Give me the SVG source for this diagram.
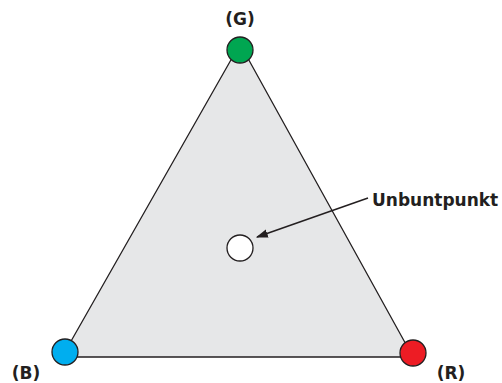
<svg xmlns="http://www.w3.org/2000/svg" width="502" height="383" viewBox="0 0 502 383">
<style>
.lbl{font-family:"DejaVu Sans",sans-serif;font-weight:bold;font-size:17px;fill:#231f20}
.dot{stroke:#231f20;stroke-width:1.3}
</style>
<defs>
<marker id="ah" viewBox="0 0 10 10" refX="9" refY="5" markerWidth="12" markerHeight="12" markerUnits="userSpaceOnUse" orient="auto">
<path d="M0,1.5 L10,5 L0,8.5 Z" fill="#231f20"/>
</marker>
</defs>
<g id="triangle">
<polygon points="240,44 62,357 413,357" fill="#e6e7e8" stroke="#231f20" stroke-width="1.3"/>
</g>
<g id="connectors">
<line x1="368" y1="198" x2="257" y2="237" stroke="#231f20" stroke-width="1.5" marker-end="url(#ah)"/>
</g>
<g id="G"><circle class="dot" cx="240" cy="50" r="13" fill="#00a651"/><text class="lbl" x="240" y="25" text-anchor="middle">(G)</text></g>
<g id="B"><circle class="dot" cx="65" cy="352" r="13" fill="#00aeef"/><text class="lbl" x="26" y="379" text-anchor="middle">(B)</text></g>
<g id="R"><circle class="dot" cx="413" cy="353" r="13" fill="#ed1c24"/><text class="lbl" x="451" y="379" text-anchor="middle">(R)</text></g>
<g id="unbuntpunkt"><circle class="dot" cx="240" cy="248" r="13" fill="#ffffff"/><text class="lbl" x="372" y="206">Unbuntpunkt</text></g>
</svg>
